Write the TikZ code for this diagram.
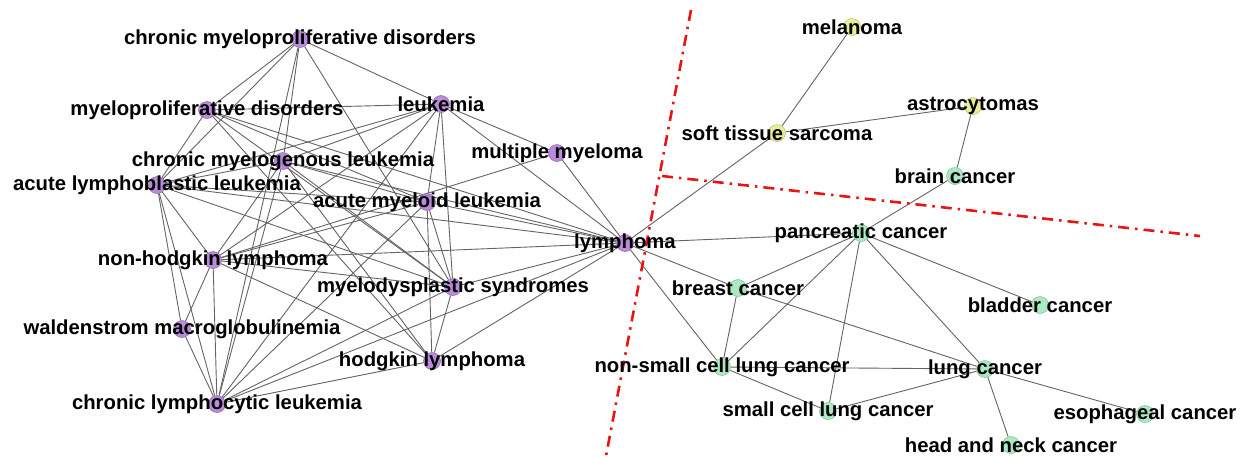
\documentclass[tikz,border=0pt]{standalone}
\usepackage{fontspec}
\setmainfont{Liberation Sans}
\usetikzlibrary{backgrounds}
\definecolor{blood}{RGB}{178,125,215}
\definecolor{organ}{RGB}{160,232,190}
\definecolor{tissue}{RGB}{230,235,140}
\definecolor{linkgray}{RGB}{100,100,100}
\definecolor{cutred}{RGB}{232,20,20}
\begin{document}
\begin{tikzpicture}[x=1pt,y=-1pt,
    dis/.style={circle,inner sep=0pt,minimum size=17pt,fill=#1,draw=#1!80!black,line width=0.5pt,fill opacity=0.9},
    lbl/.style={font=\fontsize{20.3}{21}\selectfont\bfseries,inner sep=0pt},
    link/.style={draw=linkgray,line width=0.9pt},
    cut/.style={draw=cutred,line width=2.6pt,dash pattern=on 11pt off 6pt on 2.5pt off 6pt}]
    \useasboundingbox (0,0) rectangle (1243,456);
    % blood cancers
    \node[dis=blood,label={[lbl]center:chronic myeloproliferative disorders}] (cmpd) at (300,39) {};
    \node[dis=blood,label={[lbl]center:myeloproliferative disorders}] (mpd) at (207,110) {};
    \node[dis=blood,label={[lbl]center:leukemia}] (leuk) at (441,104) {};
    \node[dis=blood,label={[lbl]center:chronic myelogenous leukemia}] (cml) at (283,161) {};
    \node[dis=blood,label={[lbl]center:acute lymphoblastic leukemia}] (all) at (157,185) {};
    \node[dis=blood,label={[lbl]center:multiple myeloma}] (mm) at (557,153) {};
    \node[dis=blood,label={[lbl]center:acute myeloid leukemia}] (aml) at (427,202) {};
    \node[dis=blood,label={[lbl]center:lymphoma}] (lym) at (625,243) {};
    \node[dis=blood,label={[lbl]center:non-hodgkin lymphoma}] (nhl) at (213,260) {};
    \node[dis=blood,label={[lbl]center:myelodysplastic syndromes}] (mds) at (453,287) {};
    \node[dis=blood,label={[lbl]center:waldenstrom macroglobulinemia}] (wm) at (182,329) {};
    \node[dis=blood,label={[lbl]center:hodgkin lymphoma}] (hl) at (432,361) {};
    \node[dis=blood,label={[lbl]center:chronic lymphocytic leukemia}] (cll) at (217,404) {};
    % sarcoma and brain
    \node[dis=tissue,label={[lbl]center:melanoma}] (mel) at (852,27) {};
    \node[dis=tissue,label={[lbl]center:soft tissue sarcoma}] (sts) at (777,133) {};
    \node[dis=tissue,label={[lbl]center:astrocytomas}] (astro) at (973,106) {};
    % solid tumours
    \node[dis=organ,label={[lbl]center:brain cancer}] (brain) at (955,176) {};
    \node[dis=organ,label={[lbl]center:pancreatic cancer}] (panc) at (861,233) {};
    \node[dis=organ,label={[lbl]center:breast cancer}] (breast) at (738,288) {};
    \node[dis=organ,label={[lbl]center:bladder cancer}] (bladder) at (1040,305) {};
    \node[dis=organ,label={[lbl]center:non-small cell lung cancer}] (nsclc) at (722,367) {};
    \node[dis=organ,label={[lbl]center:lung cancer}] (lung) at (985,369) {};
    \node[dis=organ,label={[lbl]center:small cell lung cancer}] (sclc) at (828,411) {};
    \node[dis=organ,label={[lbl]center:esophageal cancer}] (esoph) at (1145,414) {};
    \node[dis=organ,label={[lbl]center:head and neck cancer}] (hnc) at (1011,445) {};
    \begin{pgfonlayer}{background}
    \foreach \a/\b in {cmpd/mpd,cmpd/all,cmpd/cml,cmpd/leuk,cmpd/mds,cmpd/cll,
        mpd/leuk,mpd/all,mpd/aml,mpd/mds,mpd/lym,mpd/hl,
        leuk/cml,leuk/all,leuk/mm,leuk/aml,leuk/mds,leuk/lym,leuk/nhl,leuk/cll,
        cml/all,cml/aml,cml/lym,cml/mds,cml/nhl,cml/cll,cml/hl,
        all/aml,all/lym,all/mds,all/nhl,all/wm,all/cll,
        mm/lym,mm/nhl,aml/lym,aml/mds,aml/hl,aml/nhl,aml/cll,
        nhl/mds,nhl/lym,nhl/hl,nhl/wm,nhl/cll,
        mds/lym,mds/hl,mds/cll,hl/lym,hl/cll,wm/cll,cll/lym,
        lym/sts,sts/mel,sts/astro,astro/brain,brain/panc,
        lym/panc,lym/breast,lym/nsclc,panc/breast,panc/nsclc,panc/sclc,panc/lung,panc/bladder,
        breast/nsclc,breast/lung,nsclc/lung,nsclc/sclc,sclc/lung,lung/esoph,lung/hnc}
        \draw[link] (\a) -- (\b);
    % cluster borders
    \coordinate (vtop) at (691,10);
    \coordinate (vbot) at (606,456);
    \coordinate (hleft) at (662,176);
    \coordinate (hright) at (1200,236);
    \draw[cut] (vtop) -- (vbot);
    \draw[cut] (hleft) -- (hright);
    \end{pgfonlayer}
\end{tikzpicture}
\end{document}
